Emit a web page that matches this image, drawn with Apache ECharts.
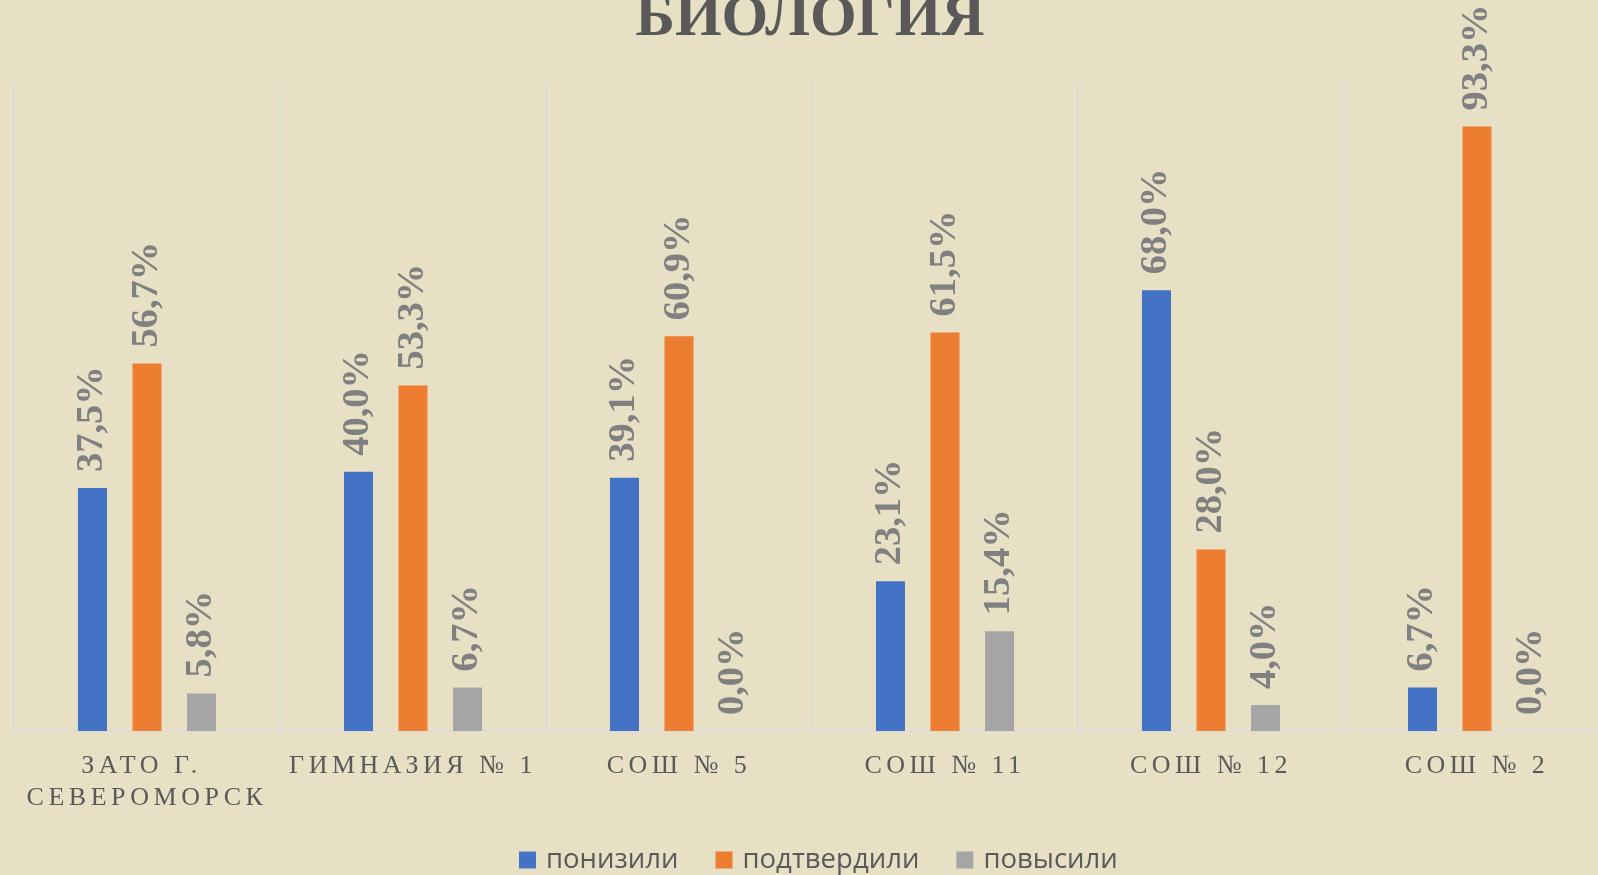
<!DOCTYPE html>
<html>
<head>
<meta charset="utf-8">
<script src="https://cdn.jsdelivr.net/npm/echarts@6/dist/echarts.min.js"></script>
<style>
html,body{margin:0;padding:0;background:#E8E0C5;}
#chart{width:1598px;height:875px;}
</style>
</head>
<body>
<div id="chart"></div>
<script>
// ---- data ----
const title = 'БИОЛОГИЯ';
const categories = ['ЗАТО Г. СЕВЕРОМОРСК', 'ГИМНАЗИЯ № 1', 'СОШ № 5', 'СОШ № 11', 'СОШ № 12', 'СОШ № 2'];
const seriesNames = ['понизили', 'подтвердили', 'повысили'];
const lowered   = [37.5, 40.0, 39.1, 23.1, 68.0, 6.7];
const confirmed = [56.7, 53.3, 60.9, 61.5, 28.0, 93.3];
const raised    = [5.8, 6.7, 0.0, 15.4, 4.0, 0.0];

// letter spacing for the regular serif category labels
(function(){
  const proto = CanvasRenderingContext2D.prototype;
  const orig = proto.fillText;
  proto.fillText = function(t, x, y, mw){
    const f = this.font || '';
    this.letterSpacing = (f.indexOf('Liberation Serif') >= 0 && f.indexOf('bold') < 0 && f.indexOf('700') < 0) ? '4.5px' : '0px';
    return mw === undefined ? orig.call(this, t, x, y) : orig.call(this, t, x, y, mw);
  };
})();

const colors = ['#4472C4', '#ED7D31', '#A5A5A5'];
const fmt = p => p.value.toFixed(1).replace('.', ',') + '%';
const labelStyle = {
  show: true,
  position: 'top',
  rotate: 90,
  align: 'left',
  verticalAlign: 'middle',
  distance: 16,
  formatter: fmt,
  color: '#808080',
  fontFamily: 'Times New Roman',
  fontWeight: 'bold',
  fontSize: 38.5
};
const chart = echarts.init(document.getElementById('chart'));
chart.setOption({
  backgroundColor: '#E8E0C5',
  animation: false,
  color: colors,
  title: {
    text: title,
    left: 810,
    textAlign: 'center',
    top: -11,
    padding: 0,
    textStyle: {fontFamily: 'Times New Roman', fontWeight: 'bold', fontSize: 60, color: '#595959'}
  },
  legend: {
    data: seriesNames,
    left: 519,
    top: 846,
    padding: 0,
    itemWidth: 17,
    itemHeight: 17,
    itemGap: 37,
    icon: 'rect',
    textStyle: {fontFamily: 'Open Sans', fontSize: 27.5, color: '#595959', padding: [0, 0, 0, 5]}
  },
  grid: {left: 14, width: 1596, top: 83, bottom: 144, containLabel: false, outerBoundsMode: 'none'},
  xAxis: {
    type: 'category',
    data: categories,
    axisLine: {lineStyle: {color: '#D9D9D9', width: 1.5}},
    axisTick: {show: false},
    splitLine: {show: true, lineStyle: {color: '#D9D9D9', width: 1.5}},
    axisLabel: {
      interval: 0,
      margin: 19,
      color: '#595959',
      fontFamily: 'Liberation Serif',
      fontSize: 26,
      lineHeight: 32,
      width: 300,
      overflow: 'break'
    }
  },
  yAxis: {type: 'value', min: 0, max: 100, show: false, splitLine: {show: false}},
  series: [
    {name: seriesNames[0], type: 'bar', data: lowered, barWidth: 29, barGap: '88%', label: labelStyle},
    {name: seriesNames[1], type: 'bar', data: confirmed, barWidth: 29, barGap: '88%', label: labelStyle},
    {name: seriesNames[2], type: 'bar', data: raised, barWidth: 29, barGap: '88%', label: labelStyle}
  ]
});
</script>
</body>
</html>
